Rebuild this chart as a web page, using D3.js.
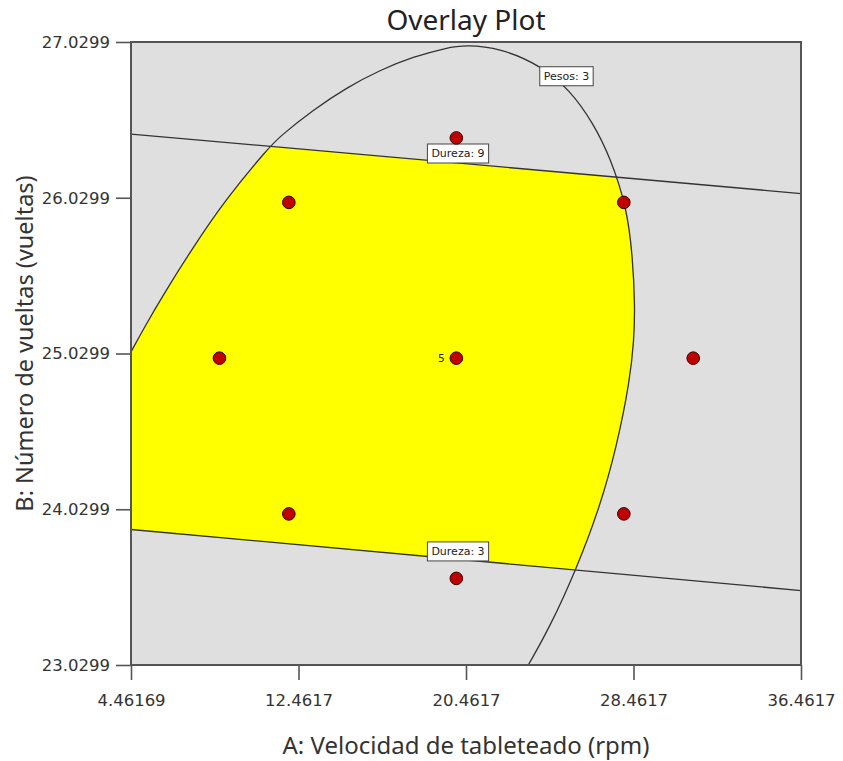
<!DOCTYPE html>
<html>
<head>
<meta charset="utf-8">
<script src="https://cdn.jsdelivr.net/npm/d3@7"></script>
<style>
  html, body { margin: 0; padding: 0; background: #fff; }
  svg { display: block; }
</style>
</head>
<body>
<svg id="chart" width="843" height="761"></svg>
<script>
// Factor ranges and tick labels
const xTicks = [4.46169, 12.4617, 20.4617, 28.4617, 36.4617];
const xTickLabels = ["4.46169", "12.4617", "20.4617", "28.4617", "36.4617"];
const yTicks = [23.0299, 24.0299, 25.0299, 26.0299, 27.0299];
const yTickLabels = ["23.0299", "24.0299", "25.0299", "26.0299", "27.0299"];

// Design points (central composite design), with replicate counts
const designA = [20, 12, 12, 28, 28, 8.686, 31.314, 20, 20];
const designB = [25, 24, 26, 24, 26, 25, 25, 23.586, 26.414];
const designReps = [5, 1, 1, 1, 1, 1, 1, 1, 1];

// Dureza contours (straight lines across the factor space): [A, B] endpoints
const dureza9 = [[4.46169, 26.439], [36.4617, 26.057]];
const dureza3 = [[4.46169, 23.900], [36.4617, 23.508]];

// Pesos = 3 contour, traced from left edge over the top to the bottom edge
const pesosA = [4.4617, 5.131, 6.086, 7.361, 8.951, 11.019, 11.578, 13.169, 14.764,
  16.354, 17.945, 19.540, 20.462, 22.086, 23.996, 25.429, 26.542, 27.339, 28.137,
  28.423, 28.533, 28.485, 28.294, 27.659, 26.862, 25.716, 24.474, 23.438];
const pesosB = [25.040, 25.206, 25.425, 25.698, 26.015, 26.349, 26.424, 26.595, 26.737,
  26.850, 26.935, 26.993, 27.011, 26.991, 26.882, 26.722, 26.508, 26.293, 25.972,
  25.651, 25.330, 25.117, 24.860, 24.431, 24.046, 23.640, 23.276, 23.030];

// Contour labels: text and anchor position [A, B]
const contourLabels = ["Pesos: 3", "Dureza: 9", "Dureza: 3"];
const contourLabelA = [25.26, 20.08, 20.08];
const contourLabelB = [26.810, 26.314, 23.759];

const svg = d3.select("#chart");
const plotL = 131, plotR = 801, plotT = 42, plotB = 665;

const x = d3.scaleLinear().domain([xTicks[0], xTicks[4]]).range([plotL, plotR]);
const y = d3.scaleLinear().domain([yTicks[0], yTicks[4]]).range([plotB, plotT]);

const defs = svg.append("defs");
defs.append("clipPath").attr("id", "plotClip")
  .append("rect").attr("x", plotL).attr("y", plotT)
  .attr("width", plotR - plotL).attr("height", plotB - plotT);

// band between the two Dureza contours
defs.append("clipPath").attr("id", "bandClip")
  .append("polygon")
  .attr("points", [dureza9[0], dureza9[1], dureza3[1], dureza3[0]]
    .map(p => `${x(p[0])},${y(p[1])}`).join(" "));

// Plot background
svg.append("rect")
  .attr("x", plotL).attr("y", plotT)
  .attr("width", plotR - plotL).attr("height", plotB - plotT)
  .attr("fill", "#dfdfdf");

const pesosPts = pesosA.map((a, i) => [a, pesosB[i]]);
const curveLine = d3.line().x(d => x(d[0])).y(d => y(d[1])).curve(d3.curveBasis);

// Feasible (yellow) region: inside the Pesos contour and between the Dureza lines
const regionPath = curveLine(pesosPts) + `L${x(xTicks[0])},${y(yTicks[0])}Z`;
svg.append("g").attr("clip-path", "url(#plotClip)")
  .append("g").attr("clip-path", "url(#bandClip)")
  .append("path")
  .attr("d", regionPath)
  .attr("fill", "#ffff00");

// Contour lines
const lines = svg.append("g").attr("clip-path", "url(#plotClip)")
  .attr("fill", "none").attr("stroke", "#333").attr("stroke-width", 1.3);
lines.append("path").attr("d", curveLine(pesosPts));
[dureza9, dureza3].forEach(seg => {
  lines.append("line")
    .attr("x1", x(seg[0][0])).attr("y1", y(seg[0][1]))
    .attr("x2", x(seg[1][0])).attr("y2", y(seg[1][1]));
});

// Contour labels in white boxes
const lbl = svg.append("g");
contourLabels.forEach((t, i) => {
  const g = lbl.append("g").attr("transform", `translate(${x(contourLabelA[i])},${y(contourLabelB[i])})`);
  const txt = g.append("text")
    .attr("text-anchor", "middle").attr("dy", "0.36em")
    .attr("font-family", "DejaVu Sans, sans-serif").attr("font-size", 11)
    .attr("fill", "#222").text(t);
  const bb = txt.node().getBBox();
  g.insert("rect", "text")
    .attr("x", bb.x - 4).attr("y", -9.5)
    .attr("width", bb.width + 8).attr("height", 19)
    .attr("fill", "#fff").attr("stroke", "#444").attr("stroke-width", 1);
});

// Design points
const pts = svg.append("g");
designA.forEach((a, i) => {
  pts.append("circle")
    .attr("cx", x(a)).attr("cy", y(designB[i])).attr("r", 6.3)
    .attr("fill", "#c00000").attr("stroke", "#3a0000").attr("stroke-width", 1);
  if (designReps[i] > 1) {
    pts.append("text")
      .attr("x", x(a) - 15).attr("y", y(designB[i]) + 4)
      .attr("text-anchor", "middle")
      .attr("font-family", "DejaVu Sans, sans-serif").attr("font-size", 10.5)
      .attr("fill", "#222").text(designReps[i]);
  }
});

// Plot frame
svg.append("rect")
  .attr("x", plotL).attr("y", plotT)
  .attr("width", plotR - plotL).attr("height", plotB - plotT)
  .attr("fill", "none").attr("stroke", "#555").attr("stroke-width", 2);

// Axes
const xAxis = d3.axisBottom(x).tickValues(xTicks).tickSize(15).tickPadding(14)
  .tickFormat((d, i) => xTickLabels[i]);
const gx = svg.append("g").attr("transform", `translate(0,${plotB})`).call(xAxis);
const yAxis = d3.axisLeft(y).tickValues(yTicks).tickSize(15).tickPadding(6)
  .tickFormat((d, i) => yTickLabels[i]);
const gy = svg.append("g").attr("transform", `translate(${plotL},0)`).call(yAxis);
[gx, gy].forEach(g => {
  g.select(".domain").remove();
  g.selectAll(".tick line").attr("stroke", "#555").attr("stroke-width", 1.6);
  g.selectAll(".tick text")
    .attr("font-family", "DejaVu Sans, sans-serif").attr("font-size", 16.5)
    .attr("fill", "#333");
});

// Titles
svg.append("text")
  .attr("x", 466).attr("y", 30).attr("text-anchor", "middle")
  .attr("font-family", "Noto Sans, sans-serif").attr("font-size", 28)
  .attr("fill", "#222").text("Overlay Plot");

svg.append("text")
  .attr("x", 466).attr("y", 754).attr("text-anchor", "middle")
  .attr("font-family", "Noto Sans, sans-serif").attr("font-size", 24)
  .attr("fill", "#333").text("A: Velocidad de tableteado (rpm)");

svg.append("text")
  .attr("transform", `translate(33,${(plotT + plotB) / 2 - 10}) rotate(-90)`)
  .attr("text-anchor", "middle")
  .attr("font-family", "Noto Sans, sans-serif").attr("font-size", 23.5)
  .attr("fill", "#333").text("B: Número de vueltas (vueltas)");
</script>
</body>
</html>
